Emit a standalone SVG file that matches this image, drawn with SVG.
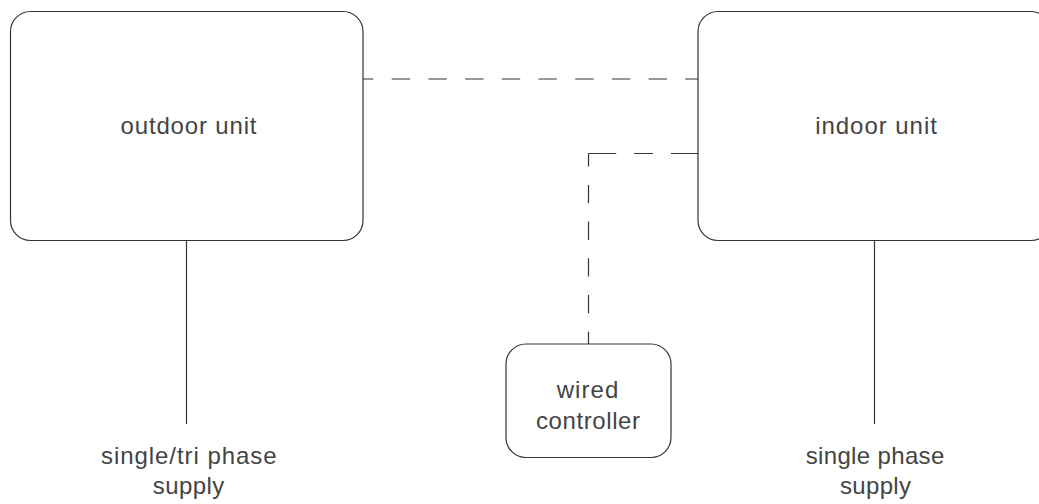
<svg xmlns="http://www.w3.org/2000/svg" width="1039" height="504" viewBox="0 0 1039 504">
<style>
.box{fill:#fff;stroke:#333;stroke-width:1.2}
.wire{fill:none;stroke:#333;stroke-width:1.2}
.lbl{font-family:"Liberation Sans",Arial,sans-serif;font-size:24px;fill:#444;text-anchor:middle}
</style>
<rect width="1039" height="504" fill="#fff"/>
<g id="connectors">
<path class="wire" d="M363,79 H698" stroke-dasharray="18.4 18.3" stroke-dashoffset="8"/>
<path class="wire" d="M588.5,153.5 H698" stroke-dasharray="27.7 18 18.7 18 27.6"/>
<path class="wire" d="M588.5,344 V153.5" stroke-dasharray="18.3 18.4" stroke-dashoffset="6"/>
<path class="wire" d="M186.5,241 V424"/>
<path class="wire" d="M874.5,241 V424"/>
</g>
<g id="outdoor">
<rect class="box" x="10.5" y="11.5" width="352.5" height="229" rx="20"/>
<text class="lbl" x="188.5" y="134" textLength="136" lengthAdjust="spacing">outdoor unit</text>
</g>
<g id="indoor">
<rect class="box" x="698" y="11.5" width="353" height="229" rx="20"/>
<text class="lbl" x="876" y="134" textLength="121.7" lengthAdjust="spacing">indoor unit</text>
</g>
<g id="controller">
<rect class="box" x="506" y="344" width="165" height="113.5" rx="20"/>
<text class="lbl" x="587.5" y="398" textLength="61.6" lengthAdjust="spacing">wired</text>
<text class="lbl" x="588" y="429" textLength="104" lengthAdjust="spacing">controller</text>
</g>
<g id="outdoor-supply">
<text class="lbl" x="188.8" y="464" textLength="175.7" lengthAdjust="spacing">single/tri phase</text>
<text class="lbl" x="188.5" y="494" textLength="71.6" lengthAdjust="spacing">supply</text>
</g>
<g id="indoor-supply">
<text class="lbl" x="875" y="464" textLength="138.6" lengthAdjust="spacing">single phase</text>
<text class="lbl" x="875.5" y="494" textLength="71" lengthAdjust="spacing">supply</text>
</g>
</svg>
